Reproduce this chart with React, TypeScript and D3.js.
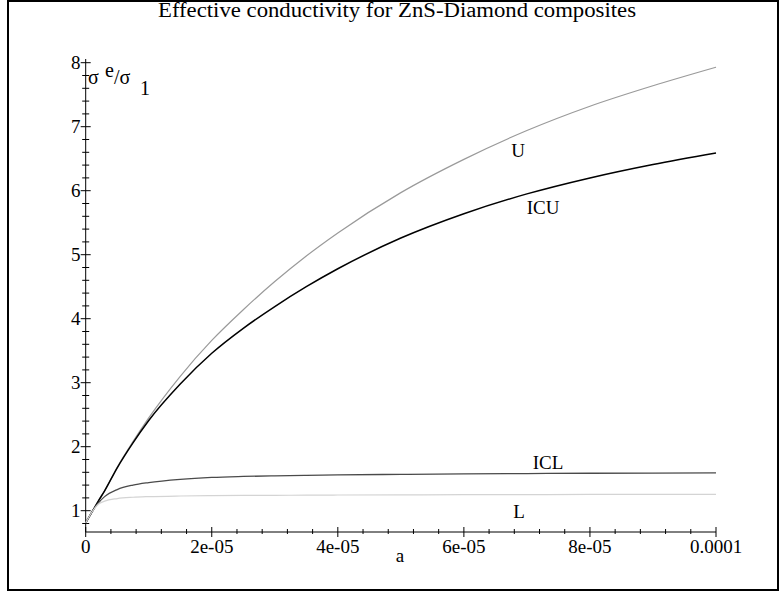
import React, { useEffect, useRef } from 'react';
import * as d3 from 'd3';

// sample points along a
const aValues = [0, 1e-6, 2e-6, 3e-6, 5e-6, 7.5e-6, 1e-5, 1.5e-5, 2e-5, 2.5e-5, 3e-5, 3.5e-5, 4e-5, 5e-5, 6e-5, 7e-5, 8e-5, 9e-5, 1e-4];
const upperU = [0.81, 0.98, 1.15, 1.31, 1.68, 2.08, 2.45, 3.1, 3.66, 4.14, 4.58, 4.98, 5.34, 5.97, 6.49, 6.94, 7.32, 7.64, 7.93];
const innerICU = [0.81, 0.98, 1.15, 1.31, 1.67, 2.06, 2.41, 2.98, 3.46, 3.85, 4.19, 4.5, 4.78, 5.26, 5.64, 5.95, 6.2, 6.41, 6.59];
const innerICL = [0.81, 0.98, 1.12, 1.22, 1.33, 1.4, 1.44, 1.49, 1.52, 1.535, 1.545, 1.553, 1.56, 1.568, 1.575, 1.58, 1.585, 1.588, 1.59];
const lowerL = [0.81, 0.98, 1.1, 1.15, 1.19, 1.21, 1.22, 1.23, 1.235, 1.238, 1.24, 1.243, 1.245, 1.248, 1.25, 1.252, 1.254, 1.255, 1.256];

const xTicks = [0, 2e-5, 4e-5, 6e-5, 8e-5, 1e-4];
const xTickLabels = ['0', '2e-05', '4e-05', '6e-05', '8e-05', '0.0001'];
const yTicks = [1, 2, 3, 4, 5, 6, 7, 8];

const curves = [
  { name: 'U', values: upperU, color: '#9a9a9a', width: 1.2, label: [518, 157] },
  { name: 'ICU', values: innerICU, color: '#000000', width: 1.5, label: [543, 214] },
  { name: 'ICL', values: innerICL, color: '#4a4a4a', width: 1.3, label: [548, 469] },
  { name: 'L', values: lowerL, color: '#d4d4d4', width: 1.2, label: [519, 518] },
];

const W = 781;
const H = 594;

export default function App() {
  const ref = useRef<SVGSVGElement>(null);

  useEffect(() => {
    if (!ref.current) return;
    const svg = d3.select(ref.current);
    svg.selectAll('*').remove();

    const font = '"Liberation Serif", "Times New Roman", serif';
    const x = d3.scaleLinear().domain([0, 1e-4]).range([85.7, 716]);
    const y = d3.scaleLinear().domain([1, 8]).range([510.7, 62.7]);
    const axisY = 532;

    svg.append('rect')
      .attr('x', 0).attr('y', 0).attr('width', W).attr('height', H)
      .attr('fill', '#fff');

    // outer frame
    svg.append('rect')
      .attr('x', 8).attr('y', 1).attr('width', 770).attr('height', 589)
      .attr('fill', 'none').attr('stroke', '#000').attr('stroke-width', 2);

    svg.append('text')
      .attr('x', 397).attr('y', 17)
      .attr('text-anchor', 'middle')
      .attr('font-family', font).attr('font-size', 20)
      .attr('textLength', 478)
      .attr('lengthAdjust', 'spacingAndGlyphs')
      .text('Effective conductivity for  ZnS-Diamond composites');

    const axes = svg.append('g').attr('stroke', '#000').attr('stroke-width', 1);
    axes.append('line')
      .attr('x1', x(0)).attr('x2', x(1e-4)).attr('y1', axisY).attr('y2', axisY);
    axes.append('line')
      .attr('x1', x(0)).attr('x2', x(0)).attr('y1', axisY).attr('y2', 59);

    // x ticks
    d3.range(0, 26).forEach(i => {
      const v = i * 4e-6;
      const major = i % 5 === 0;
      axes.append('line')
        .attr('x1', x(v)).attr('x2', x(v))
        .attr('y1', axisY - (major ? 5 : 3)).attr('y2', axisY + (major ? 5 : 2));
    });
    // y ticks
    d3.range(4, 41).forEach(i => {
      const v = i * 0.2;
      const major = i % 5 === 0;
      axes.append('line')
        .attr('x1', x(0) - (major ? 5 : 3.5)).attr('x2', x(0) + (major ? 5 : 3.5))
        .attr('y1', y(v)).attr('y2', y(v));
    });

    const labels = svg.append('g').attr('font-family', font).attr('font-size', 19).attr('fill', '#000');
    xTicks.forEach((v, i) => {
      labels.append('text')
        .attr('x', x(v)).attr('y', 553)
        .attr('text-anchor', 'middle')
        .text(xTickLabels[i]);
    });
    yTicks.forEach(v => {
      labels.append('text')
        .attr('x', 80.5).attr('y', y(v))
        .attr('dy', '0.34em')
        .attr('text-anchor', 'end')
        .text(String(v));
    });

    labels.append('text').attr('x', 400).attr('y', 562).attr('text-anchor', 'middle').text('a');

    const yl = labels.append('g').attr('font-size', 20);
    yl.append('text').attr('x', 88).attr('y', 84).text('σ');
    yl.append('text').attr('x', 105).attr('y', 77).text('e');
    yl.append('text').attr('x', 114).attr('y', 84).text('/σ');
    yl.append('text').attr('x', 140).attr('y', 95).text('1');

    const line = d3.line<number>()
      .x((_, i) => x(aValues[i]))
      .y(d => y(d))
      .curve(d3.curveMonotoneX);

    curves.forEach(c => {
      svg.append('path')
        .attr('d', line(c.values) || '')
        .attr('fill', 'none')
        .attr('stroke', c.color)
        .attr('stroke-width', c.width);
      labels.append('text')
        .attr('x', c.label[0]).attr('y', c.label[1])
        .attr('text-anchor', 'middle')
        .text(c.name);
    });
  }, []);

  return (
    <svg
      ref={ref}
      width={W}
      height={H}
      style={{ position: 'absolute', left: 0, top: 0 }}
    />
  );
}
